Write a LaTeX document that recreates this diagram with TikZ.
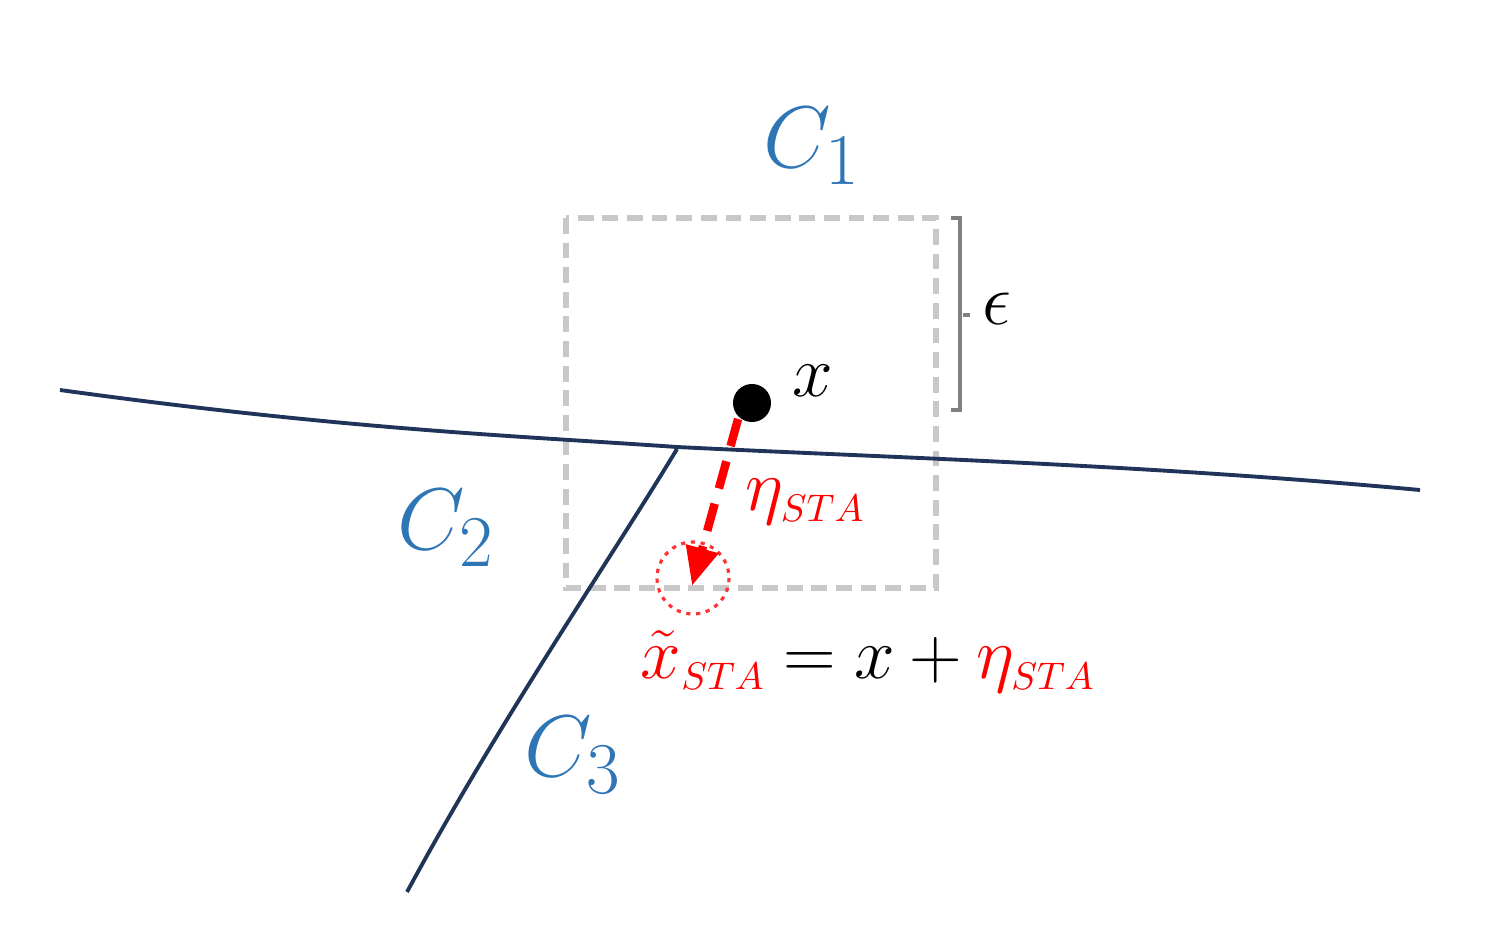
\documentclass[tikz,border=0pt]{standalone}
\usetikzlibrary{arrows.meta}
\definecolor{cblue}{HTML}{2E75B6}
\definecolor{navy}{HTML}{1F3458}
\definecolor{boxgray}{HTML}{C8C8C8}
\definecolor{brgray}{HTML}{808080}
\newcommand{\stasub}{_{\scriptscriptstyle STA}}
\begin{document}
\begin{tikzpicture}[x=0.01cm,y=-0.01cm,
  clabel/.style={text=cblue,font=\fontsize{29}{32}\selectfont,inner sep=0pt},
  mlabel/.style={font=\fontsize{22}{26}\selectfont,inner sep=0pt},
  eqlabel/.style={font=\fontsize{21}{25}\selectfont,inner sep=0pt},
  boundary/.style={navy,line width=1.1pt},
  ballbox/.style={boxgray,line width=1.5pt,dash pattern=on 4.5pt off 2.5pt},
  perturb/.style={red,line width=2.4pt,dash pattern=on 8pt off 4.5pt,-{Triangle[length=11pt,width=9pt]}},
  ballcirc/.style={red!80,line width=0.9pt,dash pattern=on 1.2pt off 1.6pt}]
\useasboundingbox (0,0) rectangle (1496,942);
% epsilon box
\draw[ballbox] (566,218) rectangle (936,588);
% boundaries
\coordinate (b0) at (60,390);
\coordinate (b1) at (1420,490);
\draw[boundary] (b0) .. controls (350,430) and (520,436) .. (677,447)
  .. controls (900,458) and (1150,465) .. (b1);
\coordinate (c3top) at (677,449);
\coordinate (c3bot) at (407,892);
\draw[boundary] (c3top) .. controls (610,560) and (500,720) .. (c3bot);
% bracket
\coordinate (brT) at (960,218);
\coordinate (brB) at (960,410);
\draw[brgray,line width=1.1pt] (951,218) -- (brT) -- (brB) -- (951,410);
\draw[brgray,line width=1.1pt] (963,315) -- (970,315);
\node[mlabel,anchor=west] (eps) at (982,309) {$\epsilon$};
% point x
\node[circle,fill=black,inner sep=0pt,minimum size=0.38cm] (xpt) at (752,403) {};
\node[mlabel,anchor=west] (xlab) at (792,381) {$x$};
% perturbed point
\coordinate (xadv) at (693,578);
\draw[ballcirc] (xadv) circle[radius=36];
\coordinate (tip) at (692,586);
\draw[perturb] (xpt.south west) ++(0,2) -- (tip);
\node[mlabel,anchor=west,text=red] (eta) at (745,502) {$\eta\stasub$};
% equation
\node[eqlabel,anchor=west] (eq) at (640,662)
  {\thickmuskip=4.5mu\medmuskip=3.5mu$\textcolor{red}{\tilde{x}\stasub} = x + \textcolor{red}{\eta\stasub}$};
% class labels
\node[clabel] (C1) at (812,146) {$C_1$};
\node[clabel] (C2) at (446,528) {$C_2$};
\node[clabel] (C3) at (573,755) {$C_3$};
\end{tikzpicture}
\end{document}
